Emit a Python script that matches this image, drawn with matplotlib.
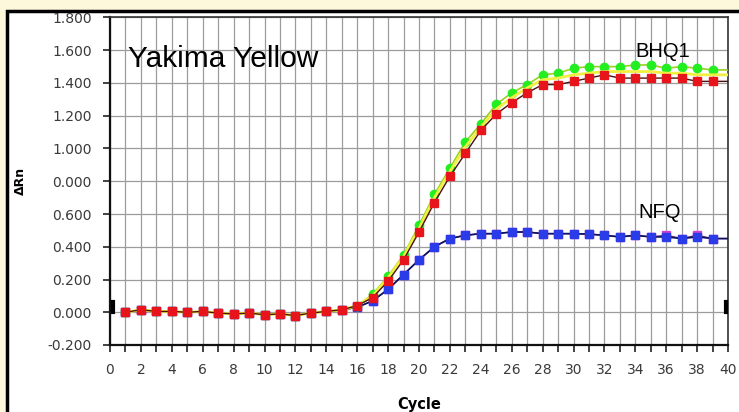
import matplotlib
matplotlib.use("Agg")
import matplotlib.pyplot as plt
from matplotlib.patches import Rectangle
import numpy as np

cycles = list(range(1, 41))
baseline = [0.00, 0.015, 0.005, 0.005, 0.00, 0.005, -0.005, -0.01, -0.005, -0.015,
            -0.01, -0.02, -0.005, 0.005, 0.015]
bhq1_green = baseline + [0.04, 0.11, 0.22, 0.35, 0.53, 0.72, 0.88, 1.04, 1.15, 1.27,
                         1.34, 1.39, 1.45, 1.46, 1.49, 1.50, 1.50, 1.50, 1.51, 1.51,
                         1.49, 1.50, 1.49, 1.48, 1.48]
bhq1_yellow = baseline + [0.04, 0.10, 0.21, 0.34, 0.51, 0.70, 0.86, 1.01, 1.13, 1.24,
                          1.31, 1.37, 1.42, 1.43, 1.45, 1.46, 1.47, 1.47, 1.47, 1.47,
                          1.46, 1.46, 1.45, 1.45, 1.45]
bhq1_red = baseline + [0.04, 0.09, 0.19, 0.32, 0.49, 0.67, 0.83, 0.97, 1.11, 1.21,
                       1.28, 1.34, 1.39, 1.39, 1.41, 1.43, 1.45, 1.43, 1.43, 1.43,
                       1.43, 1.43, 1.41, 1.41, 1.41]
nfq_blue = baseline + [0.03, 0.07, 0.14, 0.23, 0.32, 0.40, 0.45, 0.47, 0.48, 0.48,
                       0.49, 0.49, 0.48, 0.48, 0.48, 0.477, 0.47, 0.46, 0.47, 0.46,
                       0.46, 0.45, 0.46, 0.45, 0.45]
nfq_magenta = baseline + [0.03, 0.07, 0.14, 0.23, 0.32, 0.40, 0.45, 0.47, 0.48, 0.48,
                          0.49, 0.49, 0.48, 0.48, 0.48, 0.477, 0.47, 0.46, 0.47, 0.46,
                          0.47, 0.45, 0.47, 0.45, 0.45]
threshold = 0.03
y_tick_positions = [-0.2, 0.0, 0.2, 0.4, 0.6, 0.8, 1.0, 1.2, 1.4, 1.6, 1.8]
y_tick_labels = ["-0.200", "0.000", "0.200", "0.400", "0.600", "0.000",
                 "1.000", "1.200", "1.400", "1.600", "1.800"]
x_ticks = list(range(0, 41))

W, H = 739, 412
fig = plt.figure(figsize=(W / 100, H / 100), dpi=100)
fig.patch.set_facecolor("#fdf7dc")
# white panel with black frame (cut at right/bottom)
fig.patches.append(Rectangle((6.5 / W, -0.05), 1.2, (H - 10.5) / H + 0.05,
                             transform=fig.transFigure, facecolor="white",
                             edgecolor="black", linewidth=2.5, zorder=-10))

ax = fig.add_axes([110 / W, (H - 345) / H, (728 - 110) / W, (345 - 17.5) / H])
ax.set_zorder(5)
ax.set_facecolor("white")
ax.set_xlim(0, 40)
ax.set_ylim(-0.2, 1.8)

ax.set_xticks(x_ticks, labels=[str(c) if c % 2 == 0 else "" for c in x_ticks])
ax.set_yticks(y_tick_positions, labels=y_tick_labels)
ax.grid(True, color="#9c9c9c", linewidth=0.9)
ax.set_axisbelow(True)
ax.tick_params(axis="both", direction="out", length=5, width=1.2, color="#222222",
               labelsize=10, labelcolor="#3a3a3a")
ax.tick_params(axis="x", pad=8)
ax.tick_params(axis="y", pad=8)
for s in ["left", "bottom"]:
    ax.spines[s].set_color("#111111")
    ax.spines[s].set_linewidth(1.6)
for s in ["top", "right"]:
    ax.spines[s].set_color("#333333")
    ax.spines[s].set_linewidth(1.2)

ms = 6
mk = slice(0, 39)
ax.plot(cycles, nfq_magenta, color="#5a3070", lw=1.0, marker="s", ms=ms,
        mfc="#d040d0", mec="#d040d0", markevery=mk, zorder=3)
ax.plot(cycles, nfq_blue, color="#101060", lw=1.2, marker="s", ms=ms,
        mfc="#2a3ce8", mec="#2a3ce8", markevery=mk, zorder=4)
ax.plot(cycles, bhq1_green, color="#9ad020", lw=1.2, marker="o", ms=ms,
        mfc="#22ee22", mec="#22ee22", markevery=mk, zorder=5)
ax.plot(cycles, bhq1_yellow, color="#f0f040", lw=2.0, zorder=5)
ax.plot(cycles, bhq1_red, color="#4a1010", lw=1.0, marker="s", ms=ms,
        mfc="#e8141c", mec="#e8141c", markevery=mk, zorder=6)

# threshold markers at both ends
ax.plot([0.2, 0.2], [0, threshold * 2], color="black", lw=3, zorder=7, clip_on=False)
ax.plot([39.9, 39.9], [0, threshold * 2], color="black", lw=3, zorder=7, clip_on=False)

ax.text(1.15, 1.50, "Yakima Yellow", fontsize=21.5, family="Liberation Sans",
        va="baseline", ha="left", zorder=8)
ax.text(34.0, 1.56, "BHQ1", fontsize=14.5, family="Liberation Sans",
        va="baseline", ha="left", zorder=8)
ax.text(34.2, 0.576, "NFQ", fontsize=14.5, family="Liberation Sans",
        va="baseline", ha="left", zorder=8)

fig.text(20 / W, 1 - 181 / H, "ΔRn", rotation=90, fontsize=9, fontweight="bold",
         ha="center", va="center")
fig.text(419 / W, 1 - 405 / H, "Cycle", fontsize=10.5, fontweight="bold",
         ha="center", va="center")

fig.savefig("out.png", dpi=100, facecolor=fig.get_facecolor())
